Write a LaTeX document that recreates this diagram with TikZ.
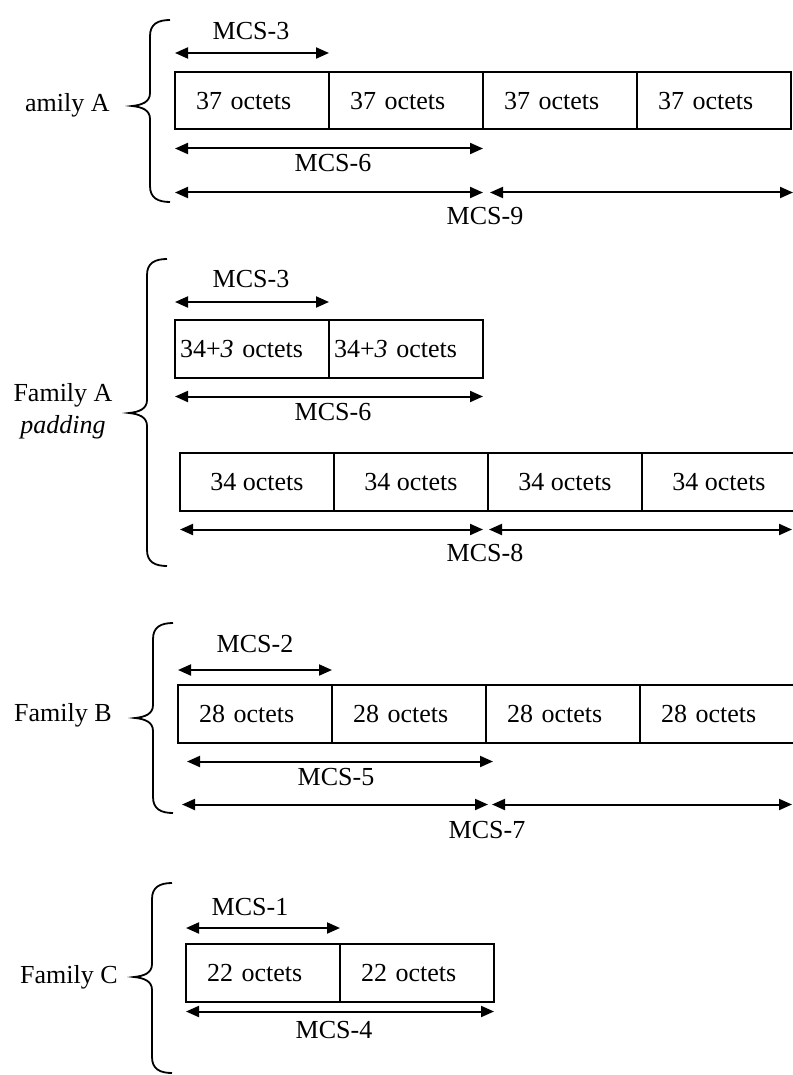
\documentclass[tikz,border=0pt]{standalone}
\usepackage{fontspec}
\setmainfont{Liberation Serif}
\usepackage{tikz}
\usetikzlibrary{positioning,arrows.meta}

\tikzset{
  seg/.style={draw, line width=1pt, minimum width=77pt, minimum height=28.75pt, inner sep=0pt, outer sep=0pt},
  segl/.style={seg, text width=56pt, inner xsep=10.5pt, align=left},
  segp/.style={seg, text width=72pt, inner xsep=2.5pt, align=left},
  dim/.style={{Triangle[length=6.5pt,width=5.5pt]}-{Triangle[length=6.5pt,width=5.5pt]}, line width=1pt},
  brc/.style={line width=0.9pt},
  lbl/.style={inner sep=0pt, anchor=base}
}
% curly brace: #1 x of its ends, #2 top, #3 tip, #4 bottom (pixels)
\newcommand{\fambrace}[4]{%
  \draw[brc] (#1,#2) .. controls (#1-12,#2) and (#1-20,#2+4) .. (#1-20,#2+16)
    -- (#1-20,#3-13) .. controls (#1-20,#3-4) and (#1-28,#3-1) .. (#1-38,#3)
    .. controls (#1-28,#3+1) and (#1-20,#3+4) .. (#1-20,#3+13)
    -- (#1-20,#4-16) .. controls (#1-20,#4-4) and (#1-12,#4) .. (#1,#4);}

\begin{document}
\begin{tikzpicture}[x=0.5pt, y=-0.5pt, font=\fontsize{13pt}{16pt}\selectfont]
\useasboundingbox (0,0) rectangle (792,1075);

% Family A
\node[segl, anchor=north west] (a1) at (175,72) {37 octets};
\node[segl, right=0pt of a1] (a2) {37 octets};
\node[segl, right=0pt of a2] (a3) {37 octets};
\node[segl, right=0pt of a3] (a4) {37 octets};
\draw[dim] ([yshift=9.5pt]a1.north west) -- ([yshift=9.5pt]a1.north east);
\node[lbl] (mcs3a) at (251,39.5) {MCS-3};
\draw[dim] ([yshift=-9.5pt]a1.south west) -- ([yshift=-9.5pt]a2.south east);
\node[lbl] (mcs6a) at (333,172) {MCS-6};
\draw[dim] ([yshift=-31.5pt]a1.south west) -- ([yshift=-31.5pt]a2.south east);
\draw[dim] ([yshift=-31.5pt,xshift=3.5pt]a3.south west) -- ([yshift=-31.5pt,xshift=1pt]a4.south east);
\node[lbl] (mcs9) at (485,225) {MCS-9};
\fambrace{170}{20}{106}{202}
\node[inner sep=0pt, anchor=base east] (famA) at (110,112) {amily A};

% Family A padding
\node[segp, anchor=north west] (b1) at (175,320) {34+\textit{3} octets};
\node[segp, right=0pt of b1] (b2) {34+\textit{3} octets};
\draw[dim] ([yshift=9pt]b1.north west) -- ([yshift=9pt]b1.north east);
\node[lbl] (mcs3b) at (251,287) {MCS-3};
\draw[dim] ([yshift=-9.5pt]b1.south west) -- ([yshift=-9.5pt]b2.south east);
\node[lbl] (mcs6b) at (333,420.5) {MCS-6};
\node[seg, anchor=north west] (c1) at (180,453) {34 octets};
\node[seg, right=0pt of c1] (c2) {34 octets};
\node[seg, right=0pt of c2] (c3) {34 octets};
\node[seg, right=0pt of c3] (c4) {34 octets};
\draw[dim] ([yshift=-9.5pt]c1.south west) -- ([yshift=-9.5pt,xshift=-2.5pt]c2.south east);
\draw[dim] ([yshift=-9.5pt,xshift=0.5pt]c3.south west) -- ([yshift=-9.5pt,xshift=-2pt]c4.south east);
\node[lbl] (mcs8) at (485,561) {MCS-8};
\fambrace{167}{259}{413}{566}
\node[inner sep=0pt, anchor=north, align=center] (famAp) at (63,383) {Family A\\\textit{padding}};

% Family B
\node[segl, anchor=north west] (d1) at (178,685) {28 octets};
\node[segl, right=0pt of d1] (d2) {28 octets};
\node[segl, right=0pt of d2] (d3) {28 octets};
\node[segl, right=0pt of d3] (d4) {28 octets};
\draw[dim] ([yshift=7.5pt]d1.north west) -- ([yshift=7.5pt]d1.north east);
\node[lbl] (mcs2) at (255,652) {MCS-2};
\draw[dim] ([yshift=-9.5pt,xshift=4.5pt]d1.south west) -- ([yshift=-9.5pt,xshift=3.5pt]d2.south east);
\node[lbl] (mcs5) at (336,785.5) {MCS-5};
\draw[dim] ([yshift=-31pt,xshift=2pt]d1.south west) -- ([yshift=-31pt,xshift=1pt]d2.south east);
\draw[dim] ([yshift=-31pt,xshift=3pt]d3.south west) -- ([yshift=-31pt,xshift=-1pt]d4.south east);
\node[lbl] (mcs7) at (487,838.5) {MCS-7};
\fambrace{173}{623}{718}{813}
\node[inner sep=0pt, anchor=base east] (famB) at (112,721) {Family B};

% Family C
\node[segl, anchor=north west] (e1) at (186,944) {22 octets};
\node[segl, right=0pt of e1] (e2) {22 octets};
\draw[dim] ([yshift=8pt]e1.north west) -- ([yshift=8pt]e1.north east);
\node[lbl] (mcs1) at (250,915) {MCS-1};
\draw[dim] ([yshift=-5pt]e1.south west) -- ([yshift=-5pt]e2.south east);
\node[lbl] (mcs4) at (334,1038) {MCS-4};
\fambrace{172}{883}{977}{1073}
\node[inner sep=0pt, anchor=base east] (famC) at (118,983) {Family C};
\end{tikzpicture}
\end{document}
